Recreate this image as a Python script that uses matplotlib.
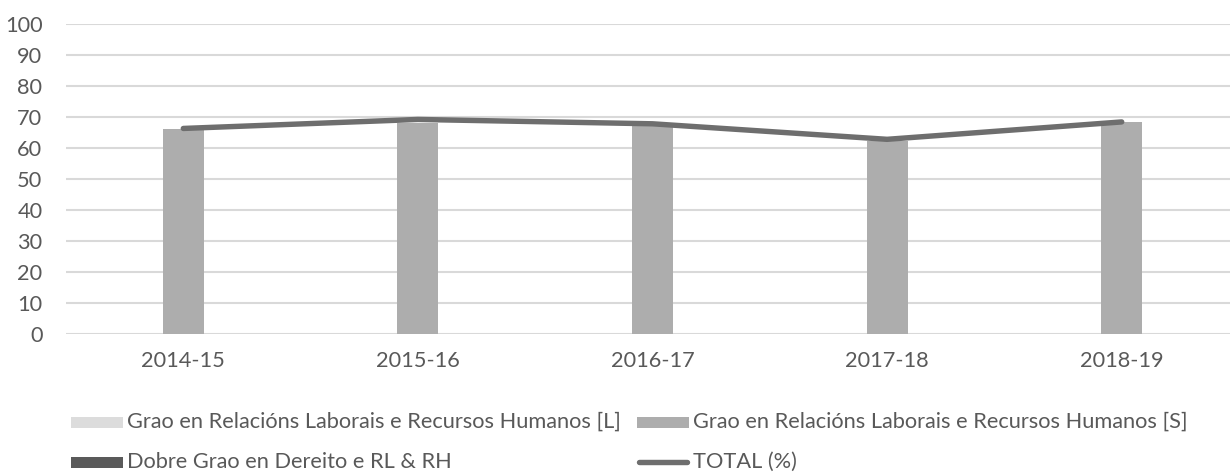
import matplotlib
matplotlib.use("Agg")
import matplotlib.pyplot as plt
import numpy as np
from matplotlib.patches import Rectangle
from matplotlib.lines import Line2D

categories = ["2014-15", "2015-16", "2016-17", "2017-18", "2018-19"]
grao_L = [np.nan, np.nan, np.nan, np.nan, np.nan]
grao_S = [66.0, 68.0, 67.4, 62.0, 68.2]
dobre = [np.nan, np.nan, np.nan, np.nan, np.nan]
total = [66.2, 69.1, 67.7, 62.7, 68.3]
yticks = [0, 10, 20, 30, 40, 50, 60, 70, 80, 90, 100]
labels = ["Grao en Relacións Laborais e Recursos Humanos [L]",
          "Grao en Relacións Laborais e Recursos Humanos [S]",
          "Dobre Grao en Dereito e RL & RH",
          "TOTAL (%)"]

c_L = "#dcdcdc"
c_S = "#adadad"
c_D = "#5a5a5a"
c_T = "#6e6e6e"
txt = "#595959"
grid = "#d9d9d9"

plt.rcParams['font.family'] = ['Lato', 'DejaVu Sans']
fs = 15.7

W, H = 1230, 473
fig = plt.figure(figsize=(W / 100, H / 100), dpi=100)
left, right, top, bottom = 66, 1239, 23.5, 334
ax = fig.add_axes([left / W, (H - bottom) / H, (right - left) / W, (bottom - top) / H])

x = np.arange(len(categories))
bw = 0.175
ax.bar(x - bw, grao_L, bw, color=c_L, linewidth=0)
ax.bar(x, grao_S, bw, color=c_S, linewidth=0)
ax.bar(x + bw, dobre, bw, color=c_D, linewidth=0)
ax.plot(x, total, color=c_T, linewidth=3.9, solid_capstyle='round', solid_joinstyle='round', zorder=5)

ax.set_xlim(-0.5, len(categories) - 0.5)
ax.set_ylim(0, 100)
ax.set_yticks(yticks)
ax.set_xticks(x)
ax.set_xticklabels(categories)
for s in ax.spines.values():
    s.set_visible(False)
ax.yaxis.grid(True, color=grid, linewidth=1.5)
ax.set_axisbelow(True)
ax.tick_params(axis='both', length=0, labelsize=fs, colors=txt)
ax.tick_params(axis='y', pad=17)
ax.tick_params(axis='x', pad=12.5)

# legend (manual, Excel-like)
def fy(py):
    return (H - py) / H

row1, row2 = 422, 462
ph = 11
entries = [
    (71, row1, 'patch', c_L, labels[0]),
    (637, row1, 'patch', c_S, labels[1]),
    (71, row2, 'patch', c_D, labels[2]),
    (637, row2, 'line', c_T, labels[3]),
]
for px, py, kind, col, lab in entries:
    if kind == 'patch':
        fig.add_artist(Rectangle((px / W, fy(py + ph / 2)), 52 / W, ph / H,
                                 transform=fig.transFigure, color=col, linewidth=0))
    else:
        fig.add_artist(Line2D([(px + 2) / W, (px + 50) / W], [fy(py), fy(py)],
                              transform=fig.transFigure, color=col, linewidth=3.9,
                              solid_capstyle='round'))
    fig.text((px + 56) / W, fy(py), lab, fontsize=fs, color=txt, va='center', ha='left')

fig.savefig("out.png", dpi=100)
